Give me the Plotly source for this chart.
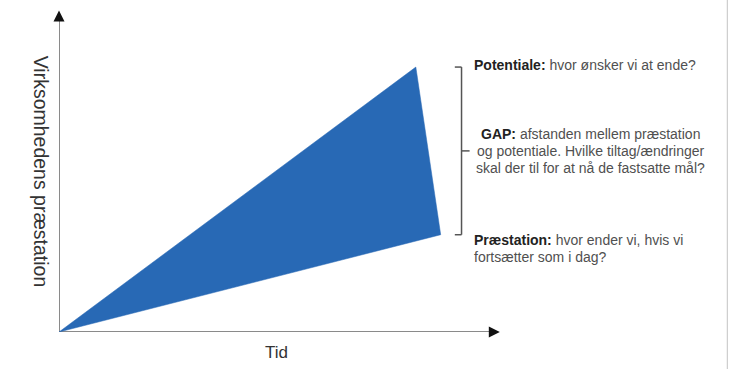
import plotly.graph_objects as go

# Gap model: from today's starting point, performance either follows
# the current trend ("Præstation") or reaches the desired level ("Potentiale").
start_tid = 0.0
start_vaerdi = 0.0
potentiale_tid = 5.31
potentiale_vaerdi = 7.98
praestation_tid = 5.68
praestation_vaerdi = 2.93

omraade_tid = [start_tid, potentiale_tid, praestation_tid, start_tid]
omraade_vaerdi = [start_vaerdi, potentiale_vaerdi, praestation_vaerdi, start_vaerdi]

akse_x_titel = "Tid"
akse_y_titel = "Virksomhedens præstation"
tekst_potentiale = [("Potentiale:", " hvor ønsker vi at ende?")]
tekst_gap = [
    ("GAP:", " afstanden mellem præstation"),
    ("", "og potentiale. Hvilke tiltag/ændringer"),
    ("", "skal der til for at nå de fastsatte mål?"),
]
tekst_praestation = [
    ("Præstation:", " hvor ender vi, hvis vi"),
    ("", "fortsætter som i dag?"),
]

X_MAX, Y_MAX = 10.0, 10.0
BLUE = "#2869b5"
AXIS_GREY = "#8a8a8a"
BRACKET_GREY = "#555555"
TEXT_DARK = "#222222"
TEXT_MID = "#505050"
FONT = "Liberation Sans, Arial, sans-serif"


def rich(parts):
    bold, rest = parts
    out = ""
    if bold:
        out += f"<b><span style='color:{TEXT_DARK}'>{bold}</span></b>"
    return out + rest


fig = go.Figure()

fig.add_trace(go.Scatter(
    x=omraade_tid, y=omraade_vaerdi,
    mode="lines", fill="toself",
    fillcolor=BLUE, line=dict(color=BLUE, width=0.5),
    hoverinfo="skip", showlegend=False,
))

shapes = []
annotations = []

# Axis shafts
x_axis_end = 6.56
y_axis_end = 9.68
shapes.append(dict(type="line", xref="x", yref="y", x0=0, y0=0, x1=x_axis_end - 0.1, y1=0,
                   line=dict(color=AXIS_GREY, width=2), layer="below"))
shapes.append(dict(type="line", xref="x", yref="y", x0=0, y0=0, x1=0, y1=y_axis_end - 0.2,
                   line=dict(color=AXIS_GREY, width=2), layer="below"))
# Arrow heads
annotations.append(dict(x=x_axis_end, y=0, xref="x", yref="y", text="", showarrow=True,
                        ax=-9, ay=0, arrowhead=2, arrowsize=1.1, arrowwidth=2,
                        arrowcolor="#111111"))
annotations.append(dict(x=0, y=y_axis_end, xref="x", yref="y", text="", showarrow=True,
                        ax=0, ay=9, arrowhead=2, arrowsize=1.1, arrowwidth=2,
                        arrowcolor="#111111"))

# Bracket spanning the gap between the two end values
bx = 5.99
gap_mid = (potentiale_vaerdi + praestation_vaerdi) / 2
bracket = dict(color=BRACKET_GREY, width=1.5)
shapes.append(dict(type="line", xref="x", yref="y", x0=bx, x1=bx,
                   y0=praestation_vaerdi, y1=potentiale_vaerdi, line=bracket))
shapes.append(dict(type="line", xref="x", yref="y", x0=bx - 0.1, x1=bx,
                   y0=potentiale_vaerdi, y1=potentiale_vaerdi, line=bracket))
shapes.append(dict(type="line", xref="x", yref="y", x0=bx - 0.1, x1=bx,
                   y0=praestation_vaerdi, y1=praestation_vaerdi, line=bracket))
shapes.append(dict(type="line", xref="x", yref="y", x0=bx, x1=bx + 0.12,
                   y0=gap_mid, y1=gap_mid, line=bracket))

# Frame line on the right side
shapes.append(dict(type="line", xref="paper", yref="paper", x0=0.9945, x1=0.9945,
                   y0=-0.2, y1=1.05, line=dict(color="#c4c4c4", width=1)))

text_font = dict(family=FONT, size=14, color=TEXT_MID)
line_h = 17
tx = 6.14

for i, t in enumerate(tekst_potentiale):
    annotations.append(dict(x=tx, y=potentiale_vaerdi, xref="x", yref="y", text=rich(t),
                            showarrow=False, xanchor="left", yanchor="middle",
                            yshift=2 - i * line_h, font=text_font))
for i, t in enumerate(tekst_gap):
    annotations.append(dict(x=7.91, y=gap_mid, xref="x", yref="y", text=rich(t),
                            showarrow=False, xanchor="center", yanchor="middle",
                            yshift=line_h - i * line_h, font=text_font))
for i, t in enumerate(tekst_praestation):
    annotations.append(dict(x=tx, y=praestation_vaerdi, xref="x", yref="y", text=rich(t),
                            showarrow=False, xanchor="left", yanchor="middle",
                            yshift=-5 - i * line_h, font=text_font))

# Axis titles
annotations.append(dict(x=3.23, y=-0.063, xref="x", yref="paper", text=akse_x_titel,
                        showarrow=False, xanchor="center", yanchor="middle",
                        font=dict(family=FONT, size=17, color="#333333")))
annotations.append(dict(x=-0.0268, y=4.83, xref="paper", yref="y", text=akse_y_titel,
                        showarrow=False, xanchor="center", yanchor="middle", textangle=90,
                        font=dict(family=FONT, size=19.5, color="#333333")))

fig.update_layout(
    width=731, height=369,
    margin=dict(l=59, r=0, t=0, b=37),
    paper_bgcolor="white", plot_bgcolor="white",
    xaxis=dict(range=[0, X_MAX], visible=False, fixedrange=True),
    yaxis=dict(range=[0, Y_MAX], visible=False, fixedrange=True),
    shapes=shapes, annotations=annotations,
    showlegend=False,
)

fig.write_html("out.html")
